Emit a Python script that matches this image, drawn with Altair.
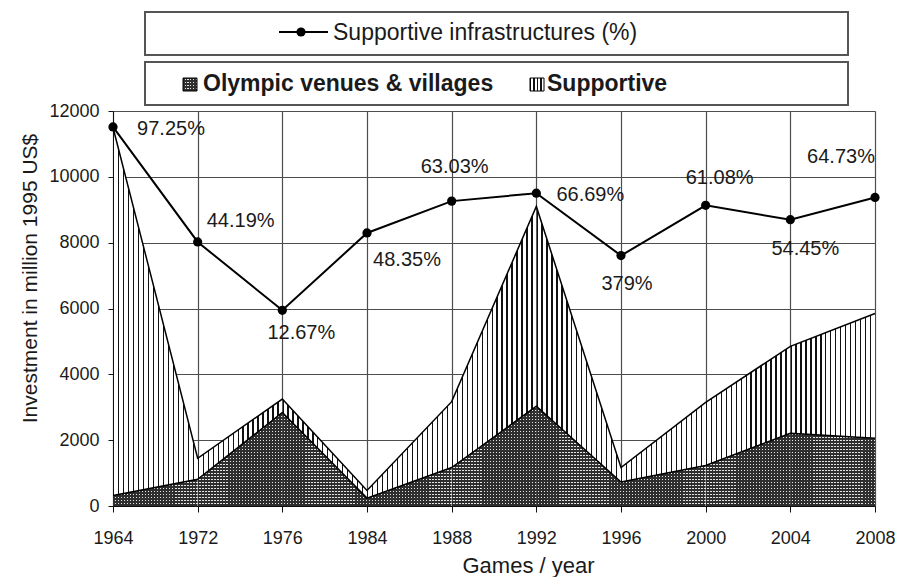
import altair as alt
import pandas as pd

# ---------------- data ----------------
years = ["1964", "1972", "1976", "1984", "1988", "1992", "1996", "2000", "2004", "2008"]
venues = [320, 810, 2840, 240, 1170, 3030, 730, 1230, 2210, 2060]          # Olympic venues & villages
supportive = [11180, 640, 410, 230, 2000, 6070, 440, 1920, 2640, 3790]     # Supportive infrastructure
pct = [97.25, 44.19, 12.67, 48.35, 63.03, 66.69, 37.9, 61.08, 54.45, 64.73]
pct_labels = ["97.25%", "44.19%", "12.67%", "48.35%", "63.03%", "66.69%",
              "379%", "61.08%", "54.45%", "64.73%"]

df = pd.DataFrame({"year": years, "venues": venues, "supportive": supportive,
                   "pct": pct, "label": pct_labels})

# ---------------- layout / style ----------------
W, H = 762, 395
FONT = "Liberation Sans"
YMAX = 12000
PCT_DOMAIN = [-77.6, 104.6]
SEG_W = W / (len(years) - 1)

# per-label text offsets (px) relative to its point
LABEL_OFFSETS = {
    "1964": (58, 2), "1972": (43, -21), "1976": (19, 23), "1984": (40, 27),
    "1988": (3, -34), "1992": (54, 2), "1996": (6, 28), "2000": (14, -27),
    "2004": (15, 29), "2008": (-34, -40),
}


def band_gradient(extent, intervals, line, bg, horizontal=False):
    stops = [{"offset": 0, "color": bg}]
    for a, b in sorted(intervals):
        a, b = max(a, 0.0), min(b, extent)
        if b <= a:
            continue
        oa, ob = round(a / extent, 6), round(b / extent, 6)
        stops += [{"offset": oa, "color": bg}, {"offset": oa, "color": line},
                  {"offset": ob, "color": line}, {"offset": ob, "color": bg}]
    stops.append({"offset": 1, "color": bg})
    g = {"gradient": "linear", "stops": stops}
    g.update({"x1": 0, "x2": 0, "y1": 0, "y2": 1} if horizontal
             else {"x1": 0, "x2": 1, "y1": 0, "y2": 0})
    return g


def vstripes(extent, n, width, line, bg):
    period = extent / n
    return band_gradient(extent, [(k * period, k * period + width) for k in range(n)], line, bg)


def hstripes_from_bottom(extent, period, width, line, bg):
    n = int(extent / period) + 1
    iv = [(extent - k * period - width, extent - k * period) for k in range(n)]
    return band_gradient(extent, iv, line, bg, horizontal=True)


CLEAR = "rgba(0,0,0,0)"

x_axis = alt.Axis(title="Games / year", labelAngle=0, labelFontSize=18, labelColor="#1a1a1a",
                  labelBaseline="alphabetic", labelPadding=31, tickSize=6, tickColor="#111",
                  domainColor="#111", grid=True, gridColor="#4d4d4d", gridWidth=1.2,
                  titleFontSize=22, titleFontWeight="normal", titleColor="#1a1a1a",
                  titleX=415, titleY=66, titleBaseline="alphabetic", titleAlign="center")
y_axis = alt.Axis(title="Investment in million 1995 US$", values=list(range(0, 12001, 2000)),
                  format="d", labelFontSize=18, labelColor="#1a1a1a", labelPadding=9,
                  tickSize=5, tickColor="#111", domainColor="#111", grid=True,
                  gridColor="#4d4d4d", gridWidth=1.2, titleFontSize=21,
                  titleFontWeight="normal", titleColor="#1a1a1a", titleAngle=270,
                  titleX=-77, titleY=167, titleBaseline="alphabetic", titleAlign="center")

X = alt.X("year:O", sort=years, scale=alt.Scale(type="point", padding=0, domain=years),
          axis=x_axis)


def YP(field):
    return alt.Y(field, type="quantitative", scale=alt.Scale(domain=[0, YMAX], nice=False),
                 axis=y_axis)


base = alt.Chart(df).transform_calculate(total="datum.venues + datum.supportive")

area_layers = [
    base.mark_area(fill="white").encode(x=X, y=YP("total")),
    base.mark_area(fill="#e4e4e4").encode(x=X, y=YP("venues")),
]
# pattern fills, drawn one segment (between two consecutive Games) at a time
for i in range(len(years) - 1):
    pair = [years[i], years[i + 1]]
    seg = base.transform_filter(alt.FieldOneOfPredicate(field="year", oneOf=pair))
    v_ext = max(venues[i], venues[i + 1]) / YMAX * H
    top_fill = vstripes(SEG_W, 17, 1.3, "#111111", "#ffffff")
    hv = vstripes(SEG_W, 28, 1.6, "#2e2e2e", CLEAR)
    hh = hstripes_from_bottom(v_ext, 3.0, 1.6, "#2e2e2e", CLEAR)
    area_layers.append(seg.mark_area(fill=top_fill).encode(x=X, y=YP("total")))
    area_layers.append(seg.mark_area(fill="#e4e4e4").encode(x=X, y=YP("venues")))
    area_layers.append(seg.mark_area(fill=hv).encode(x=X, y=YP("venues")))
    area_layers.append(seg.mark_area(fill=hh).encode(x=X, y=YP("venues")))

area_layers.append(base.mark_line(color="black", strokeWidth=1.5).encode(x=X, y=YP("total")))
area_layers.append(base.mark_line(color="black", strokeWidth=1.5).encode(x=X, y=YP("venues")))
areas = alt.layer(*area_layers)

YS = alt.Y("pct:Q", scale=alt.Scale(domain=PCT_DOMAIN, nice=False, zero=False), axis=None)
pline = alt.Chart(df).mark_line(color="black", strokeWidth=2).encode(x=X, y=YS)
ppts = alt.Chart(df).mark_circle(size=85, color="black", opacity=1).encode(x=X, y=YS)
label_layers = []
for yr, (dx, dy) in LABEL_OFFSETS.items():
    label_layers.append(
        alt.Chart(df).transform_filter(alt.datum.year == yr)
        .mark_text(dx=dx, dy=dy, fontSize=20, color="#1a1a1a", align="center", baseline="middle")
        .encode(x=X, y=YS, text="label:N")
    )
lines = alt.layer(pline, ppts, *label_layers)

# ---------------- legend boxes (drawn above the plot) ----------------
one = pd.DataFrame({"k": [0]})
box1 = alt.Chart(one).mark_rect(fill="white", stroke="#555", strokeWidth=2).encode(
    x=alt.value(32), x2=alt.value(735), y=alt.value(-99), y2=alt.value(-56))
box2 = alt.Chart(one).mark_rect(fill="white", stroke="#555", strokeWidth=2).encode(
    x=alt.value(32), x2=alt.value(735), y=alt.value(-49), y2=alt.value(-6))
sym_line = alt.Chart(one).mark_rule(color="black", strokeWidth=2).encode(
    x=alt.value(166), x2=alt.value(215), y=alt.value(-79))
sym_dot = alt.Chart(one).mark_circle(size=85, color="black", opacity=1).encode(
    x=alt.value(188), y=alt.value(-79))
txt1 = alt.Chart(one).mark_text(text="Supportive infrastructures (%)", fontSize=23, align="left",
                                baseline="alphabetic", color="#1a1a1a").encode(
    x=alt.value(220), y=alt.value(-71))
sq1a = alt.Chart(one).mark_rect(fill="#e4e4e4").encode(
    x=alt.value(70), x2=alt.value(84), y=alt.value(-33), y2=alt.value(-20))
sq1b = alt.Chart(one).mark_rect(fill=vstripes(14, 5, 1.6, "#2e2e2e", CLEAR)).encode(
    x=alt.value(70), x2=alt.value(84), y=alt.value(-33), y2=alt.value(-20))
sq1c = alt.Chart(one).mark_rect(fill=hstripes_from_bottom(13, 3, 1.6, "#2e2e2e", CLEAR),
                                stroke="black", strokeWidth=1).encode(
    x=alt.value(70), x2=alt.value(84), y=alt.value(-33), y2=alt.value(-20))
sq2 = alt.Chart(one).mark_rect(fill=vstripes(14, 4, 1.2, "#111111", "#ffffff"),
                               stroke="black", strokeWidth=1).encode(
    x=alt.value(417), x2=alt.value(431), y=alt.value(-33), y2=alt.value(-20))
txt2 = alt.Chart(one).mark_text(text="Olympic venues & villages", fontSize=23, fontWeight="bold",
                                align="left", baseline="alphabetic", color="#1a1a1a").encode(
    x=alt.value(90), y=alt.value(-20))
txt3 = alt.Chart(one).mark_text(text="Supportive", fontSize=23, fontWeight="bold",
                                align="left", baseline="alphabetic", color="#1a1a1a").encode(
    x=alt.value(434), y=alt.value(-20))
legend = alt.layer(box1, box2, sym_line, sym_dot, txt1, sq1a, sq1b, sq1c, sq2, txt2, txt3)

chart = (
    alt.layer(areas, lines, legend)
    .resolve_scale(y="independent")
    .properties(width=W, height=H, autosize=alt.AutoSizeParams(type="none"),
                padding={"left": 105, "top": 103, "right": 20, "bottom": 71})
    .configure(font=FONT)
    .configure_view(stroke=None)
)

chart.save("out.html", embed_options={"renderer": "svg", "actions": False})
